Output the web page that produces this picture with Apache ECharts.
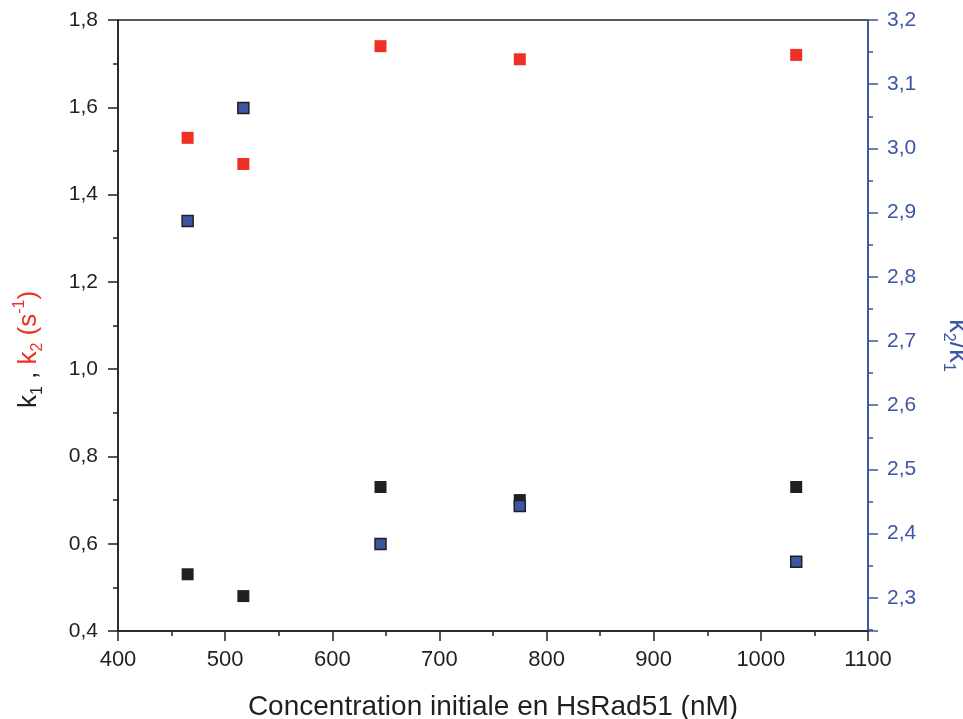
<!DOCTYPE html>
<html>
<head>
<meta charset="utf-8">
<script src="https://cdn.jsdelivr.net/npm/echarts@6/dist/echarts.min.js"></script>
<style>
    html,body{margin:0;padding:0;background:#fff;}
    #chart{width:963px;height:719px;}
</style>
</head>
<body>
<div id="chart"></div>
<script>
    // 数据
    var concentrations = [465, 517, 645, 775, 1033];   // nM
    var k1Values = [0.53, 0.48, 0.73, 0.70, 0.73];
    var k2Values = [1.53, 1.47, 1.74, 1.71, 1.72];
    var ratioValues = [2.887, 3.063, 2.384, 2.443, 2.356];

    var BLACK = '#231f20';
    var RED = '#ee3124';
    var BLUE = '#3a56a5';
    var FONT = 'Liberation Sans';

    function pairs(xs, ys){
        var out = [];
        for(var i=0;i<xs.length;i++) out.push([xs[i], ys[i]]);
        return out;
    }
    function comma(v){
        return v.toFixed(1).replace('.', ',');
    }

    var chart = echarts.init(document.getElementById('chart'));
    var option = {
        backgroundColor: '#fff',
        animation: false,
        grid: {
            left: 118, right: 95, top: 20, bottom: 88,
            outerBoundsMode: 'none',
            containLabel: false,
            show: true,
            borderColor: BLACK,
            borderWidth: 1.5
        },
        xAxis: {
            type: 'value',
            min: 400, max: 1100, interval: 100,
            name: 'Concentration initiale en HsRad51 (nM)',
            nameLocation: 'middle',
            nameGap: 62,
            nameTextStyle: {fontFamily: FONT, fontSize: 28, color: BLACK},
            axisLine: {onZero: false, lineStyle: {color: BLACK, width: 1.5}},
            axisTick: {show: true, inside: false, length: 10, lineStyle: {color: BLACK, width: 1.5}},
            minorTick: {show: true, splitNumber: 2, length: 5, lineStyle: {color: BLACK, width: 1.5}},
            axisLabel: {fontFamily: FONT, fontSize: 22, color: BLACK, margin: 18,
                formatter: function(v){ return String(v); }},
            splitLine: {show: false}
        },
        yAxis: [
            {
                type: 'value',
                position: 'left',
                min: 0.4, max: 1.8, interval: 0.2,
                name: '{k|k}{ks|1}{k| , }{r|k}{rs|2}{r| (s}{rp|-1}{r|)}',
                nameLocation: 'middle',
                nameRotate: 90,
                nameGap: 72,
                nameTextStyle: {
                    fontFamily: FONT,
                    padding: [0, 48, 0, 0],
                    rich: {
                        k: {fontFamily: FONT, fontSize: 26, color: BLACK, lineHeight: 34, verticalAlign: 'middle'},
                        ks: {fontFamily: FONT, fontSize: 16, color: BLACK, lineHeight: 34, verticalAlign: 'bottom'},
                        r: {fontFamily: FONT, fontSize: 26, color: RED, lineHeight: 34, verticalAlign: 'middle'},
                        rs: {fontFamily: FONT, fontSize: 16, color: RED, lineHeight: 34, verticalAlign: 'bottom'},
                        rp: {fontFamily: FONT, fontSize: 16, color: RED, lineHeight: 34, verticalAlign: 'top'}
                    }
                },
                axisLine: {show: true, onZero: false, lineStyle: {color: BLACK, width: 1.5}},
                axisTick: {show: true, inside: false, length: 10, lineStyle: {color: BLACK, width: 1.5}},
                minorTick: {show: true, splitNumber: 2, length: 5, lineStyle: {color: BLACK, width: 1.5}},
                axisLabel: {fontFamily: FONT, fontSize: 21, color: BLACK, margin: 20, formatter: comma},
                splitLine: {show: false}
            },
            {
                type: 'value',
                position: 'right',
                min: 2.2483, max: 3.2, splitNumber: 10,
                name: '{b|k}{bs|2}{b|/k}{bs|1}',
                nameLocation: 'middle',
                nameRotate: -90,
                nameGap: 72,
                nameTextStyle: {
                    fontFamily: FONT,
                    padding: [0, 0, 0, 40],
                    rich: {
                        b: {fontFamily: FONT, fontSize: 27, color: BLUE, lineHeight: 34, verticalAlign: 'middle'},
                        bs: {fontFamily: FONT, fontSize: 16, color: BLUE, lineHeight: 34, verticalAlign: 'bottom'}
                    }
                },
                axisLine: {show: true, onZero: false, lineStyle: {color: BLUE, width: 2}},
                axisTick: {show: true, inside: false, length: 10, lineStyle: {color: BLUE, width: 1.5}},
                minorTick: {show: true, splitNumber: 2, length: 5, lineStyle: {color: BLUE, width: 1.5}},
                axisLabel: {fontFamily: FONT, fontSize: 21, color: BLUE, margin: 19, showMinLabel: false,
                    formatter: function(v){ return comma(v); }},
                splitLine: {show: false}
            }
        ],
        series: [
            {
                name: 'k2',
                type: 'scatter',
                yAxisIndex: 0,
                symbol: 'rect',
                symbolSize: 12,
                itemStyle: {color: RED, opacity: 1},
                data: pairs(concentrations, k2Values)
            },
            {
                name: 'k1',
                type: 'scatter',
                yAxisIndex: 0,
                symbol: 'rect',
                symbolSize: 12,
                itemStyle: {color: BLACK, opacity: 1},
                data: pairs(concentrations, k1Values)
            },
            {
                name: 'k2/k1',
                type: 'scatter',
                yAxisIndex: 1,
                symbol: 'rect',
                symbolSize: 11,
                itemStyle: {color: BLUE, borderColor: BLACK, borderWidth: 1.5, opacity: 1},
                data: pairs(concentrations, ratioValues)
            }
        ]
    };
    chart.setOption(option);
</script>
</body>
</html>
